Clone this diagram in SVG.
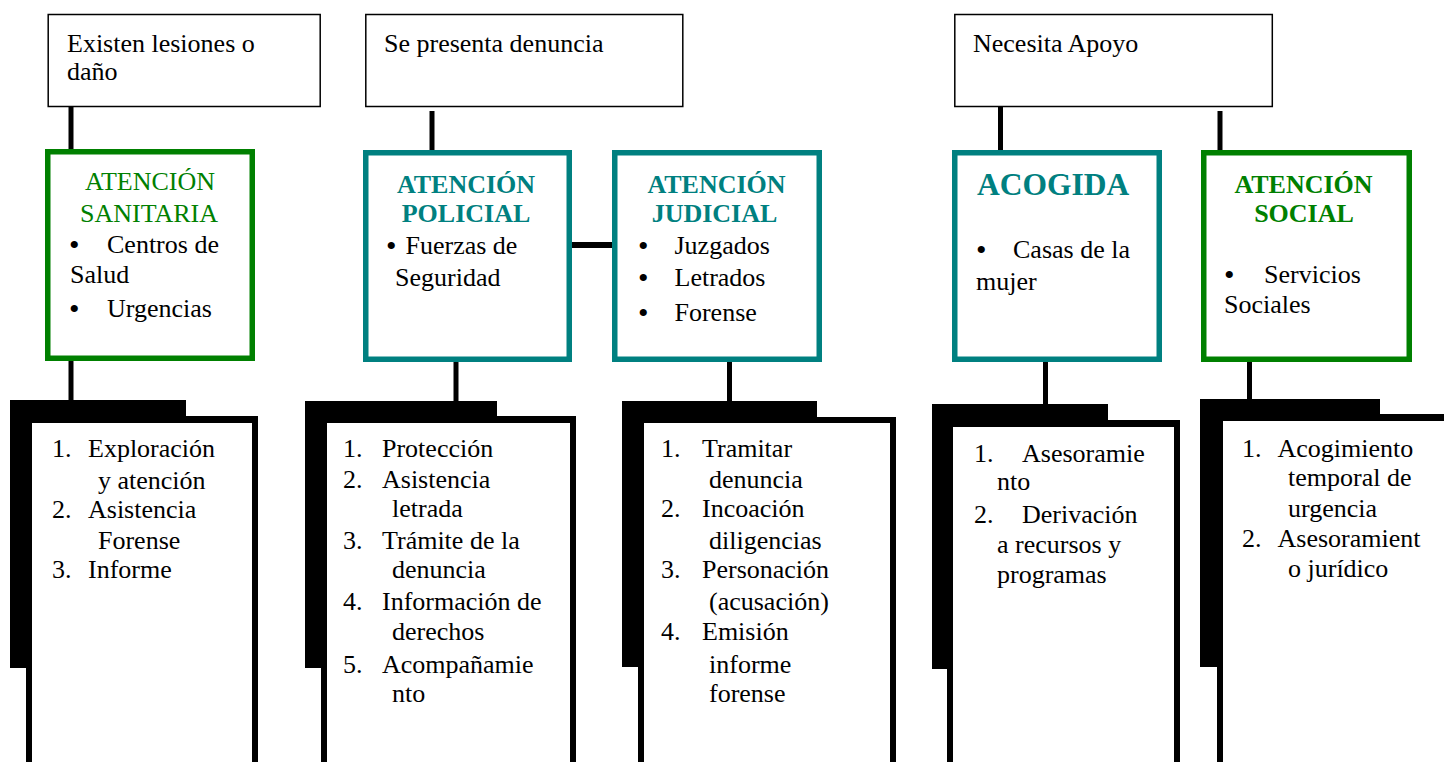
<svg xmlns="http://www.w3.org/2000/svg" width="1444" height="762" viewBox="0 0 1444 762">
<g id="connectors" stroke="#000" stroke-width="5">
  <line x1="71" y1="106" x2="71" y2="151"/>
  <line x1="71" y1="360" x2="71" y2="402"/>
  <line x1="432" y1="111" x2="432" y2="156"/>
  <line x1="456" y1="360" x2="456" y2="402"/>
  <line x1="570" y1="245" x2="615" y2="245" stroke-width="6"/>
  <line x1="729.5" y1="360" x2="729.5" y2="402"/>
  <line x1="1000.5" y1="107" x2="1000.5" y2="153"/>
  <line x1="1045.5" y1="360" x2="1045.5" y2="405"/>
  <line x1="1220" y1="111" x2="1220" y2="156"/>
  <line x1="1249.5" y1="360" x2="1249.5" y2="400"/>
</g>
<g id="top-lesiones">
  <rect x="48.2" y="14.5" width="272" height="92" fill="#fff" stroke="#000" stroke-width="1.5"/>
  <text x="67" y="52" font-family="Liberation Serif" font-size="26">Existen lesiones o</text>
  <text x="67" y="80" font-family="Liberation Serif" font-size="26">daño</text>
</g>
<g id="top-denuncia">
  <rect x="365.8" y="14.5" width="317" height="92" fill="#fff" stroke="#000" stroke-width="1.5"/>
  <text x="384" y="52" font-family="Liberation Serif" font-size="26">Se presenta denuncia</text>
</g>
<g id="top-apoyo">
  <rect x="954.8" y="14.5" width="317.5" height="92" fill="#fff" stroke="#000" stroke-width="1.5"/>
  <text x="973" y="52" font-family="Liberation Serif" font-size="26">Necesita Apoyo</text>
</g>
<g id="sanitaria">
  <rect x="47.75" y="151.75" width="204.5" height="206.5" fill="#fff" stroke="#008000" stroke-width="5.5"/>
  <text x="150" y="190" font-family="Liberation Serif" font-size="26" fill="#008000" text-anchor="middle">ATENCIÓN</text>
  <text x="149" y="222" font-family="Liberation Serif" font-size="26" fill="#008000" text-anchor="middle">SANITARIA</text>
  <text x="69" y="255" font-family="Liberation Serif" font-size="30">•</text>
  <text x="107" y="253" font-family="Liberation Serif" font-size="26">Centros de</text>
  <text x="70" y="283" font-family="Liberation Serif" font-size="26">Salud</text>
  <text x="69" y="319" font-family="Liberation Serif" font-size="30">•</text>
  <text x="107" y="317" font-family="Liberation Serif" font-size="26">Urgencias</text>
</g>
<g id="policial">
  <rect x="365.75" y="152.75" width="203.5" height="206.5" fill="#fff" stroke="#008080" stroke-width="5.5"/>
  <text x="466" y="193" font-family="Liberation Serif" font-size="26" font-weight="bold" fill="#008080" text-anchor="middle">ATENCIÓN</text>
  <text x="466" y="222" font-family="Liberation Serif" font-size="26" font-weight="bold" fill="#008080" text-anchor="middle">POLICIAL</text>
  <text x="386" y="256" font-family="Liberation Serif" font-size="30">•</text>
  <text x="405.5" y="254" font-family="Liberation Serif" font-size="26">Fuerzas de</text>
  <text x="395" y="286" font-family="Liberation Serif" font-size="26">Seguridad</text>
</g>
<g id="judicial">
  <rect x="614.75" y="152.75" width="204.5" height="206.5" fill="#fff" stroke="#008080" stroke-width="5.5"/>
  <text x="716.5" y="193" font-family="Liberation Serif" font-size="26" font-weight="bold" fill="#008080" text-anchor="middle">ATENCIÓN</text>
  <text x="714.5" y="222" font-family="Liberation Serif" font-size="26" font-weight="bold" fill="#008080" text-anchor="middle">JUDICIAL</text>
  <text x="638" y="256" font-family="Liberation Serif" font-size="30">•</text>
  <text x="674.5" y="254" font-family="Liberation Serif" font-size="26">Juzgados</text>
  <text x="638" y="288" font-family="Liberation Serif" font-size="30">•</text>
  <text x="674.5" y="286" font-family="Liberation Serif" font-size="26">Letrados</text>
  <text x="638" y="323" font-family="Liberation Serif" font-size="30">•</text>
  <text x="674.5" y="321" font-family="Liberation Serif" font-size="26">Forense</text>
</g>
<g id="acogida">
  <rect x="954.75" y="152.75" width="204.5" height="206.5" fill="#fff" stroke="#008080" stroke-width="5.5"/>
  <text x="977" y="195" font-family="Liberation Serif" font-size="31.5" font-weight="bold" fill="#008080">ACOGIDA</text>
  <text x="976" y="260" font-family="Liberation Serif" font-size="30">•</text>
  <text x="1013" y="258" font-family="Liberation Serif" font-size="26">Casas de la</text>
  <text x="976" y="290" font-family="Liberation Serif" font-size="26">mujer</text>
</g>
<g id="social">
  <rect x="1203.75" y="152.75" width="205.5" height="206.5" fill="#fff" stroke="#008000" stroke-width="5.5"/>
  <text x="1303.5" y="193" font-family="Liberation Serif" font-size="26" font-weight="bold" fill="#008000" text-anchor="middle">ATENCIÓN</text>
  <text x="1304" y="222" font-family="Liberation Serif" font-size="26" font-weight="bold" fill="#008000" text-anchor="middle">SOCIAL</text>
  <text x="1224" y="285" font-family="Liberation Serif" font-size="30">•</text>
  <text x="1264" y="283" font-family="Liberation Serif" font-size="26">Servicios</text>
  <text x="1224" y="313" font-family="Liberation Serif" font-size="26">Sociales</text>
</g>
<g id="tareas-sanitaria" font-family="Liberation Serif" font-size="26">
  <rect x="10" y="400" width="176" height="268" fill="#000"/>
  <rect x="26" y="416" width="232" height="360" fill="#000"/>
  <rect x="32" y="423" width="220" height="360" fill="#fff"/>
  <text x="52" y="457">1.</text><text x="88" y="457">Exploración</text>
  <text x="98" y="489">y atención</text>
  <text x="52" y="518">2.</text><text x="88" y="518">Asistencia</text>
  <text x="98" y="549">Forense</text>
  <text x="52" y="578">3.</text><text x="88" y="578">Informe</text>
</g>
<g id="tareas-policial" font-family="Liberation Serif" font-size="26">
  <rect x="305" y="401" width="192" height="267" fill="#000"/>
  <rect x="321" y="416" width="255" height="360" fill="#000"/>
  <rect x="327" y="423" width="243" height="360" fill="#fff"/>
  <text x="343" y="457">1.</text><text x="382" y="457">Protección</text>
  <text x="343" y="488">2.</text><text x="382" y="488">Asistencia</text>
  <text x="392" y="517">letrada</text>
  <text x="343" y="549">3.</text><text x="382" y="549">Trámite de la</text>
  <text x="392" y="578">denuncia</text>
  <text x="343" y="610">4.</text><text x="382" y="610">Información de</text>
  <text x="392" y="640">derechos</text>
  <text x="343" y="673">5.</text><text x="382" y="673">Acompañamie</text>
  <text x="392" y="702">nto</text>
</g>
<g id="tareas-judicial" font-family="Liberation Serif" font-size="26">
  <rect x="622" y="401" width="195" height="266" fill="#000"/>
  <rect x="638" y="417" width="258" height="360" fill="#000"/>
  <rect x="644" y="423" width="246" height="360" fill="#fff"/>
  <text x="661" y="457">1.</text><text x="702" y="457">Tramitar</text>
  <text x="709" y="488">denuncia</text>
  <text x="661" y="517">2.</text><text x="702" y="517">Incoación</text>
  <text x="709" y="549">diligencias</text>
  <text x="661" y="578">3.</text><text x="702" y="578">Personación</text>
  <text x="709" y="610">(acusación)</text>
  <text x="661" y="640">4.</text><text x="702" y="640">Emisión</text>
  <text x="709" y="673">informe</text>
  <text x="709" y="702">forense</text>
</g>
<g id="tareas-acogida" font-family="Liberation Serif" font-size="26">
  <rect x="932" y="404" width="176" height="265" fill="#000"/>
  <rect x="947" y="420" width="233" height="360" fill="#000"/>
  <rect x="953" y="427" width="221" height="360" fill="#fff"/>
  <text x="974" y="462">1.</text><text x="1022" y="462">Asesoramie</text>
  <text x="997" y="490">nto</text>
  <text x="974" y="523">2.</text><text x="1022" y="523">Derivación</text>
  <text x="997" y="553">a recursos y</text>
  <text x="997" y="583">programas</text>
</g>
<g id="tareas-social" font-family="Liberation Serif" font-size="26">
  <rect x="1200" y="399" width="180" height="268" fill="#000"/>
  <rect x="1217" y="414" width="240" height="360" fill="#000"/>
  <rect x="1223" y="421" width="240" height="360" fill="#fff"/>
  <text x="1242" y="457">1.</text><text x="1277.5" y="457">Acogimiento</text>
  <text x="1288" y="486">temporal de</text>
  <text x="1288" y="517">urgencia</text>
  <text x="1242" y="547">2.</text><text x="1277.5" y="547">Asesoramient</text>
  <text x="1288" y="577">o jurídico</text>
</g>
</svg>
